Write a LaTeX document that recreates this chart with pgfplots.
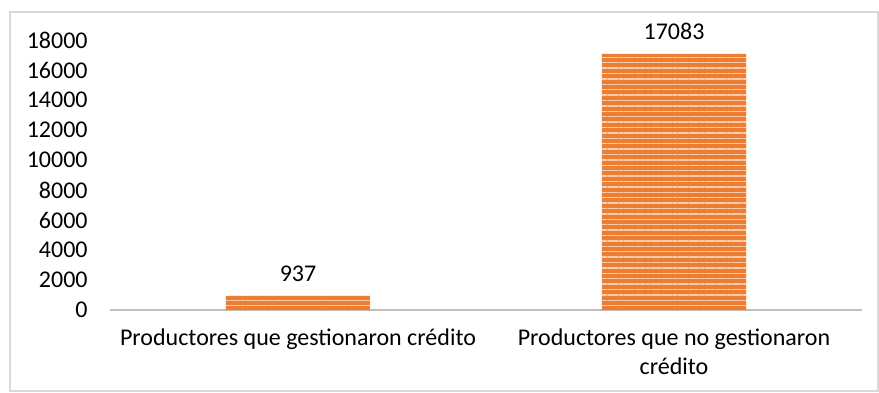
\documentclass[border=0pt]{standalone}
\usepackage{pgfplots}
\pgfplotsset{compat=1.18}
\usepackage{fontspec}
\setmainfont{Carlito}
\usetikzlibrary{patterns.meta}
\definecolor{barorange}{HTML}{ED7D31}
\definecolor{stripe}{HTML}{F8CBAD}
\definecolor{axisgray}{HTML}{BFBFBF}
\definecolor{bordergray}{HTML}{D9D9D9}
\begin{document}
\fontsize{12}{14.5}\selectfont
\begin{tikzpicture}
\useasboundingbox (-55pt,-41pt) rectangle (384.5pt,155pt);
\draw[bordergray, line width=0.75pt] (-50pt,-40.5pt) rectangle (384pt,149pt);
\begin{axis}[
  at={(0,0)}, anchor=south west,
  scale only axis, width=376pt, height=135pt,
  xmin=-0.5, xmax=1.5, ymin=0, ymax=18000,
  ytick={0,2000,...,18000},
  scaled y ticks=false,
  xtick={0,1},
  xticklabels={Productores que gestionaron crédito, {Productores que no gestionaron\\crédito}},
  xticklabel style={align=center, font=\fontsize{12}{14.5}\selectfont, yshift=-1pt},
  yticklabel style={font=\fontsize{12}{14.5}\selectfont, xshift=-7pt},
  axis lines*=left,
  x axis line style={-, axisgray, line width=1.2pt},
  y axis line style={draw=none},
  tick style={draw=none},
  /pgf/number format/.cd, 1000 sep={}, assume math mode=true, /pgfplots/.cd,
  clip=false,
  ybar, bar width=72pt,
  nodes near coords,
  nodes near coords style={font=\fontsize{12}{14.5}\selectfont, text=black, yshift=3pt},
]
\addplot[fill=barorange, draw=none,
  postaction={pattern={Lines[angle=0,distance=2.7pt,line width=0.7pt]}, pattern color=stripe}]
  coordinates {(0,937) (1,17083)};
\end{axis}
\end{tikzpicture}
\end{document}
